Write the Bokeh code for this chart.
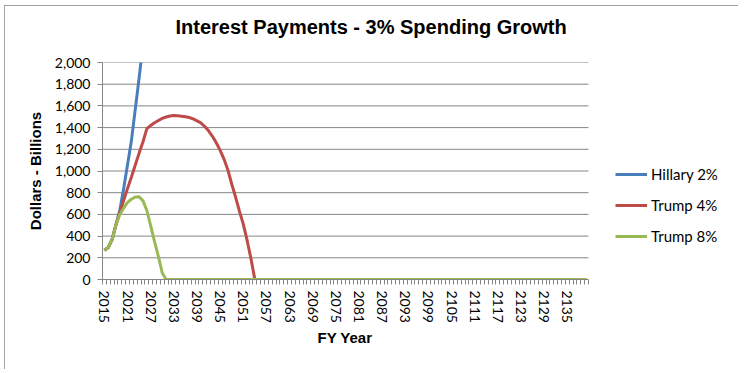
from bokeh.plotting import figure
from bokeh.models import FixedTicker, NumeralTickFormatter, Legend, LegendItem, Title
from bokeh.embed import file_html
from bokeh.resources import INLINE

# ---------------- data ----------------
years = list(range(2015, 2141))

hillary_years = list(range(2015, 2026))
hillary_2 = [270, 295, 370, 505, 640, 840, 1060, 1280, 1570, 1860, 2170]

trump_4 = [
    270, 295, 370, 505, 620, 730, 840, 945, 1055, 1165,
    1270, 1390, 1420, 1445, 1465, 1485, 1498, 1507, 1512, 1510,
    1505, 1500, 1493, 1480, 1462, 1443, 1410, 1370, 1320, 1260,
    1190, 1110, 1010, 880, 760, 630, 510, 360, 190, 0,
    0, 0, 0, 0, 0, 0, 0, 0, 0, 0,
    0, 0, 0, 0, 0, 0, 0, 0, 0, 0,
    0, 0, 0, 0, 0, 0, 0, 0, 0, 0,
    0, 0, 0, 0, 0, 0, 0, 0, 0, 0,
    0, 0, 0, 0, 0, 0, 0, 0, 0, 0,
    0, 0, 0, 0, 0, 0, 0, 0, 0, 0,
    0, 0, 0, 0, 0, 0, 0, 0, 0, 0,
    0, 0, 0, 0, 0, 0, 0, 0, 0, 0,
    0, 0, 0, 0, 0, 0,
]

trump_8 = [
    270, 295, 370, 505, 600, 660, 710, 740, 760, 762,
    725, 636, 495, 350, 210, 60, 0, 0, 0, 0,
    0, 0, 0, 0, 0, 0, 0, 0, 0, 0,
    0, 0, 0, 0, 0, 0, 0, 0, 0, 0,
    0, 0, 0, 0, 0, 0, 0, 0, 0, 0,
    0, 0, 0, 0, 0, 0, 0, 0, 0, 0,
    0, 0, 0, 0, 0, 0, 0, 0, 0, 0,
    0, 0, 0, 0, 0, 0, 0, 0, 0, 0,
    0, 0, 0, 0, 0, 0, 0, 0, 0, 0,
    0, 0, 0, 0, 0, 0, 0, 0, 0, 0,
    0, 0, 0, 0, 0, 0, 0, 0, 0, 0,
    0, 0, 0, 0, 0, 0, 0, 0, 0, 0,
    0, 0, 0, 0, 0, 0,
]

label_years = list(range(2015, 2136, 6))
y_ticks = list(range(0, 2001, 200))
series_names = ["Hillary 2%", "Trump 4%", "Trump 8%"]
colors = ["#4A7EBB", "#BE4B48", "#98B954"]
title_text = "Interest Payments - 3% Spending Growth"

# ---------------- layout constants ----------------
GRAY = "#868686"
W, H = 734, 364
LEFT, RIGHT, TOP, BOTTOM = 98, 2, 57, 90
plot_w = 486                       # width of the drawn category area
x0 = years[0] - 0.5
x1 = years[-1] + 0.5
px_per_unit = plot_w / (x1 - x0)
frame_w = W - LEFT - RIGHT
x_end = x0 + frame_w / px_per_unit   # frame extends right to hold the legend

p = figure(width=W, height=H,
           x_range=(x0, x_end), y_range=(0, 2000),
           output_backend="svg", toolbar_location=None,
           min_border_left=LEFT, min_border_right=RIGHT,
           min_border_top=TOP, min_border_bottom=BOTTOM,
           background_fill_color="white", border_fill_color="white")
p.outline_line_color = None
p.styles = {"outline": "1px solid #878787", "outline-offset": "-1px",
            "margin-left": "4px", "margin-top": "5px"}

# title: a blank second line adds room below it so the text sits higher
p.title.text = title_text + "\n "
p.title.text_font = "Liberation Sans"
p.title.text_font_style = "bold"
p.title.text_font_size = "20px"
p.title.text_line_height = 0.8
p.title.text_color = "black"
p.title.align = "left"
p.title.vertical_align = "top"
p.title.offset = 73
p.title.standoff = 10

# x axis
xa = p.xaxis[0]
xa.bounds = (x0, x1)
xa.ticker = FixedTicker(ticks=label_years,
                        minor_ticks=[y - 0.5 for y in years] + [x1])
xa.major_tick_line_color = None
xa.major_tick_out = 5
xa.major_tick_in = 0
xa.minor_tick_out = 5
xa.minor_tick_in = 0
xa.minor_tick_line_color = GRAY
xa.axis_line_color = GRAY
xa.major_label_orientation = "vertical"
xa.major_label_text_font = "Lato"
xa.major_label_text_font_size = "14px"
xa.major_label_text_color = "black"
xa.major_label_standoff = 6

# x axis title, centred under the category area
p.add_layout(Title(text="FY Year", align="left", offset=215,
                   vertical_align="top", standoff=6,
                   text_font="Liberation Sans", text_font_style="bold",
                   text_font_size="15px", text_color="black"), "below")

# y axis
ya = p.yaxis[0]
ya.ticker = FixedTicker(ticks=y_ticks)
ya.formatter = NumeralTickFormatter(format="0,0")
ya.major_tick_out = 5
ya.major_tick_in = 0
ya.minor_tick_line_color = None
ya.major_tick_line_color = GRAY
ya.axis_line_color = GRAY
ya.major_label_text_font = "Lato"
ya.major_label_text_font_size = "14px"
ya.major_label_text_color = "black"
ya.major_label_standoff = 7
ya.axis_label = "Dollars - Billions"
ya.axis_label_text_font = "Liberation Sans"
ya.axis_label_text_font_style = "bold"
ya.axis_label_text_font_size = "15px"
ya.axis_label_text_color = "black"
ya.axis_label_standoff = 8

# horizontal grid lines limited to the category area
p.xgrid.grid_line_color = None
p.ygrid.grid_line_color = None
grid_vals = y_ticks[1:]
p.segment(x0=[x0] * len(grid_vals), y0=grid_vals,
          x1=[x1] * len(grid_vals), y1=grid_vals,
          line_color=GRAY, line_width=1)

# lines
r1 = p.line(hillary_years, hillary_2, line_color=colors[0], line_width=3)
r2 = p.line(years, trump_4, line_color=colors[1], line_width=3)
r3 = p.line(years, trump_8, line_color=colors[2], line_width=3)

legend = Legend(items=[LegendItem(label=series_names[0], renderers=[r1]),
                       LegendItem(label=series_names[1], renderers=[r2]),
                       LegendItem(label=series_names[2], renderers=[r3])],
                location=(513, 33))
legend.border_line_color = None
legend.background_fill_alpha = 0
legend.padding = 0
legend.margin = 0
legend.glyph_width = 32
legend.glyph_height = 20
legend.label_height = 20
legend.spacing = 11
legend.label_standoff = 4
legend.label_text_font = "Lato"
legend.label_text_font_size = "15px"
legend.label_text_color = "black"
p.add_layout(legend, "center")

open("out.html", "w").write(file_html(p, INLINE))
